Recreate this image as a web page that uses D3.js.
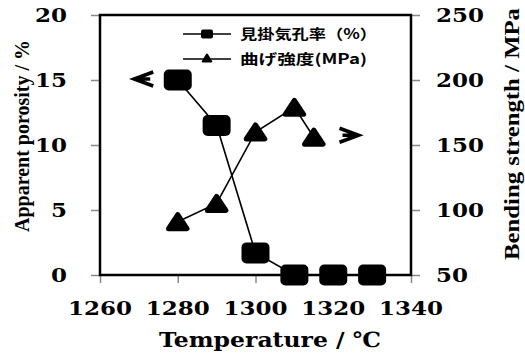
<!DOCTYPE html>
<html>
<head>
<meta charset="utf-8">
<script src="https://cdn.jsdelivr.net/npm/d3@7/dist/d3.min.js"></script>
<style>
  html, body { margin: 0; padding: 0; background: #fff; }
  svg { display: block; }
</style>
</head>
<body>
<svg id="chart" width="525" height="358"></svg>
<script>
// Sintering temperature vs. apparent porosity and bending strength
const porosityTemps = [1280, 1290, 1300, 1310, 1320, 1330];
const porosity = [15.0, 11.5, 1.7, 0.0, 0.0, 0.0];
const strengthTemps = [1280, 1290, 1300, 1310, 1315];
const strength = [91, 105, 160, 179, 156];

const xTicks = [1260, 1280, 1300, 1320, 1340];
const leftTicks = [0, 5, 10, 15, 20];
const rightTicks = [50, 100, 150, 200, 250];

const legendLabels = ["見掛気孔率（%）", "曲げ強度(MPa)"];
const xTitle = "Temperature / ℃";
const leftTitle = "Apparent porosity / %";
const rightTitle = "Bending strength / MPa";

const numFont = "DejaVu Serif";
const sideTitleFont = "Liberation Serif";
const legFont = "Noto Sans CJK JP";

const svg = d3.select("#chart");
const L = 100, R = 411, T = 15, B = 275;

const x = d3.scaleLinear().domain([1260, 1340]).range([L, R]);
const yL = d3.scaleLinear().domain([0, 20]).range([B, T]);
const yR = d3.scaleLinear().domain([50, 250]).range([B, T]);

// ticks (grey, outward)
const tickColor = "#888";
const gx = svg.append("g").attr("transform", `translate(0,${B})`)
  .call(d3.axisBottom(x).tickValues(xTicks).tickSize(8).tickFormat(""));
const gl = svg.append("g").attr("transform", `translate(${L},0)`)
  .call(d3.axisLeft(yL).tickValues(leftTicks).tickSize(9).tickFormat(""));
const gr = svg.append("g").attr("transform", `translate(${R},0)`)
  .call(d3.axisRight(yR).tickValues(rightTicks).tickSize(9).tickFormat(""));
[gx, gl, gr].forEach(g => {
  g.select(".domain").remove();
  g.selectAll("line").attr("stroke", tickColor).attr("stroke-width", 1.5);
});

// plot frame
svg.append("rect").attr("x", L).attr("y", T).attr("width", R - L).attr("height", B - T)
  .attr("fill", "none").attr("stroke", "#000").attr("stroke-width", 2.5);

// tick labels
function num(sel) {
  return sel.attr("font-family", numFont).attr("font-weight", "bold").attr("font-size", 18.5)
    .attr("lengthAdjust", "spacingAndGlyphs");
}
svg.append("g").selectAll("text").data(xTicks).join("text")
  .call(num).attr("x", d => x(d)).attr("y", 315)
  .attr("text-anchor", "middle").attr("textLength", 64)
  .text(d => d);
svg.append("g").selectAll("text").data(leftTicks).join("text")
  .call(num).attr("x", 67).attr("y", d => yL(d) + 7)
  .attr("text-anchor", "end").attr("textLength", d => String(d).length * 16)
  .text(d => d);
svg.append("g").selectAll("text").data(rightTicks).join("text")
  .call(num).attr("x", 436).attr("y", d => yR(d) + 7)
  .attr("text-anchor", "start").attr("textLength", d => String(d).length * 16)
  .text(d => d);

// axis titles
svg.append("text").attr("font-family", numFont).attr("font-weight", "bold").attr("font-size", 21)
  .attr("x", 270).attr("y", 347).attr("text-anchor", "middle")
  .attr("textLength", 222).attr("lengthAdjust", "spacingAndGlyphs")
  .text(xTitle);
svg.append("text").attr("font-family", sideTitleFont).attr("font-weight", "bold").attr("font-size", 20)
  .attr("transform", "translate(29,136) rotate(-90)").attr("text-anchor", "middle")
  .attr("textLength", 192).attr("lengthAdjust", "spacingAndGlyphs")
  .text(leftTitle);
svg.append("text").attr("font-family", sideTitleFont).attr("font-weight", "bold").attr("font-size", 20)
  .attr("transform", "translate(519,134) rotate(-90)").attr("text-anchor", "middle")
  .attr("textLength", 252).attr("lengthAdjust", "spacingAndGlyphs")
  .text(rightTitle);

// series lines
const linePor = d3.line().x((d, i) => x(porosityTemps[i])).y(d => yL(d));
const lineStr = d3.line().x((d, i) => x(strengthTemps[i])).y(d => yR(d));
svg.append("path").attr("d", linePor(porosity)).attr("fill", "none")
  .attr("stroke", "#000").attr("stroke-width", 1.6);
svg.append("path").attr("d", lineStr(strength)).attr("fill", "none")
  .attr("stroke", "#000").attr("stroke-width", 1.6);

// markers
function squareMarker(g, cx, cy, w, h, r) {
  g.append("rect").attr("x", cx - w / 2).attr("y", cy - h / 2)
    .attr("width", w).attr("height", h).attr("rx", r).attr("ry", r).attr("fill", "#000");
}
function triangleMarker(g, cx, cy, w, h, sw) {
  const iw = w - sw * 1.7, ih = h - sw;
  g.append("path")
    .attr("d", `M${cx},${cy - ih / 2} L${cx + iw / 2},${cy + ih / 2} L${cx - iw / 2},${cy + ih / 2} Z`)
    .attr("fill", "#000").attr("stroke", "#000").attr("stroke-width", sw)
    .attr("stroke-linejoin", "round");
}
const mk = svg.append("g");
strength.forEach((v, i) => triangleMarker(mk, x(strengthTemps[i]), yR(v), 27, 19, 5));
porosity.forEach((v, i) => squareMarker(mk, x(porosityTemps[i]), yL(v), 28, 21, 5));

// direction arrows pointing to the axis each series belongs to
function arrow(dir, tipX, tipY) {
  const s = dir;            // -1 points left, +1 points right
  const len = 19, half = 7;
  const p = d3.path();
  p.moveTo(tipX - s * len, tipY - half);
  p.lineTo(tipX, tipY);
  p.lineTo(tipX - s * len, tipY + half);
  p.moveTo(tipX - s * 4, tipY);
  p.lineTo(tipX - s * (len - 3), tipY);
  svg.append("path").attr("d", p.toString()).attr("fill", "none")
    .attr("stroke", "#000").attr("stroke-width", 3.6).attr("stroke-linejoin", "miter");
}
arrow(-1, x(1268.8), yL(porosity[0]) - 1);
arrow(1, x(1326.5), yR(strength[4]) - 2);

// legend
const lg = svg.append("g");
const legY = [34, 59];
lg.append("line").attr("x1", 183).attr("x2", 231).attr("y1", legY[0]).attr("y2", legY[0])
  .attr("stroke", "#000").attr("stroke-width", 1.6);
squareMarker(lg, 207, legY[0], 12, 9, 2);
lg.append("line").attr("x1", 183).attr("x2", 231).attr("y1", legY[1]).attr("y2", legY[1])
  .attr("stroke", "#000").attr("stroke-width", 1.6);
triangleMarker(lg, 207, legY[1] - 1, 12, 9, 2);
lg.selectAll("text.leg").data(legendLabels).join("text")
  .attr("font-family", legFont).attr("font-weight", "bold").attr("font-size", 14)
  .attr("x", 240).attr("y", (d, i) => legY[i] + 5)
  .attr("textLength", (d, i) => [137, 127][i]).attr("lengthAdjust", "spacingAndGlyphs")
  .text(d => d);
</script>
</body>
</html>
